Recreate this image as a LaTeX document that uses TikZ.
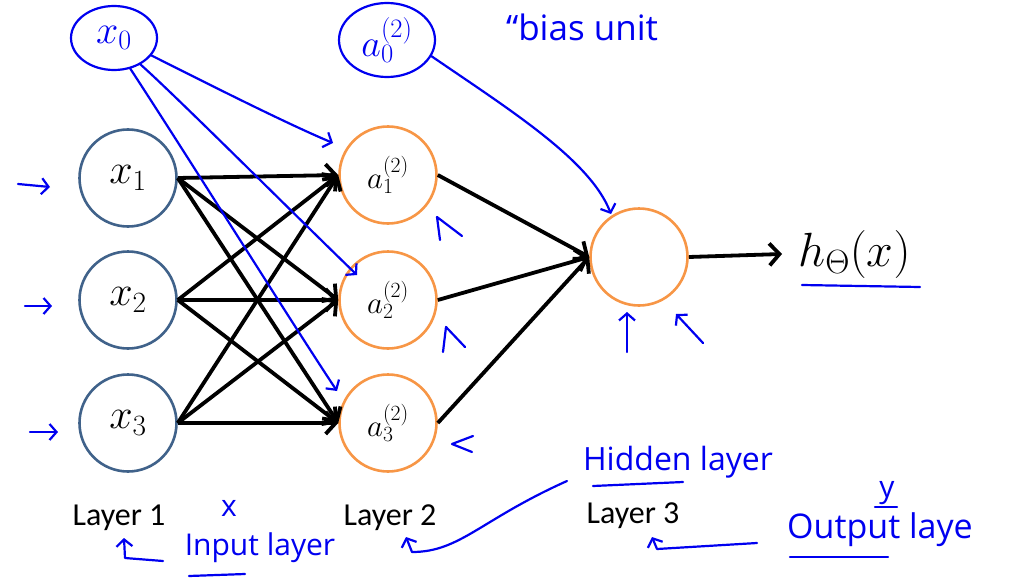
\documentclass[tikz,border=0pt]{standalone}
\usepackage{fix-cm}
\usepackage{fontspec}
\newfontfamily\calibri{Carlito}
\newfontfamily\handfont{Open Sans}
\usetikzlibrary{arrows.meta,shapes.geometric}
\definecolor{slate}{RGB}{64,98,138}
\definecolor{tang}{RGB}{247,150,70}
\definecolor{pen}{RGB}{0,0,240}

\begin{document}
\begin{tikzpicture}[x=1pt,y=-1pt,
  inp/.style={circle,draw=slate,line width=2.6pt,minimum size=97pt,inner sep=0pt,font=\fontsize{42}{48}\selectfont},
  hid/.style={inp,draw=tang,font=\fontsize{31}{36}\selectfont},
  e/.style={line width=3.8pt,-{Straight Barb[length=10pt,width=22pt]}},
  ann/.style={draw=pen,line width=2.2pt,line cap=round,line join=round,>={Straight Barb[length=7pt,width=16pt]}},
  hand/.style={text=pen,font=\handfont\fontsize{30}{36}\selectfont,inner sep=0pt},
  lay/.style={font=\calibri\fontsize{32}{38}\selectfont,anchor=base}]
  \useasboundingbox (0,0) rectangle (1027,578);
  % network
  \foreach \i/\y in {1/178,2/300,3/423} \node[inp] (x\i) at (128,\y) {$x_\i$};
  \foreach \i/\y in {1/175,2/300,3/423} \node[hid] (a\i) at (388,\y) {$a_\i^{(2)}$};
  \node[hid] (out) at (639,257) {};
  \node[font=\fontsize{48}{56}\selectfont,anchor=west,inner sep=0pt] (hx) at (798,254) {$h_\Theta(x)$};
  \foreach \i in {1,2,3} \foreach \j in {1,2,3} \draw[e] (x\i.east) -- (a\j.west);
  \foreach \j in {1,2,3} \draw[e] (a\j.east) -- (out.west);
  \draw[e] (out.east) -- ([xshift=-16pt]hx.west);
  \node[lay] (l1) at (119,525) {Layer 1};
  \node[lay] (l2) at (390,525) {Layer 2};
  \node[lay] (l3) at (633,523) {Layer 3};
  % pen notes: bias units
  \node[ellipse,ann,minimum width=86pt,minimum height=64pt,inner sep=0pt,text=pen,font=\fontsize{40}{46}\selectfont] (x0) at (114,38) {$x_0$};
  \node[ellipse,ann,minimum width=96pt,minimum height=74pt,inner sep=0pt,text=pen,font=\fontsize{38}{44}\selectfont] (a0) at (387,40) {$a_0^{(2)}$};
  \node[hand,font=\handfont\fontsize{35}{40}\selectfont] (bias) at (582,27) {“bias unit};
  \draw[ann,->] (x0.-25) .. controls (220,90) and (290,125) .. (333,143);
  \draw[ann,->] (x0.-45) .. controls (175,95) and (300,220) .. (357,275);
  \draw[ann,->] (x0.-62) .. controls (190,160) and (290,320) .. (337,391);
  \draw[ann,->] (a0.-20) .. controls (510,110) and (590,160) .. (611,214);
  % pen notes: small marks
  \draw[ann,->] (18,184) -- (50,187);
  \draw[ann,->] (25,306) -- (52,306);
  \draw[ann,->] (30,432) -- (58,432);
  \draw[ann] (440,240) -- (437,217) -- (462,236);
  \draw[ann] (443,352) -- (446,327) -- (465,347);
  \draw[ann] (473,436) -- (452,444) -- (472,452);
  \draw[ann,->] (627,352) -- (627,312);
  \draw[ann,->] (703,343) -- (676,314);
  \draw[ann] (802,285) -- (920,287);
  % pen notes: layer names
  \node[hand] (xm) at (229,508) {x};
  \node[hand] (inl) at (260,548) {Input layer};
  \node[hand,font=\handfont\fontsize{32}{38}\selectfont] (hil) at (678,462) {Hidden layer};
  \node[hand,font=\handfont\fontsize{34}{40}\selectfont] (oul) at (880,530) {Output laye};
  \node[hand] (ylab) at (887,493) {y};
  \draw[ann] (189,576) -- (245,574);
  \draw[ann] (593,486) -- (683,482);
  \draw[ann] (790,557) -- (888,557);
  \draw[ann] (875,507) -- (897,507);
  \draw[ann,->] (163,561) -- (125,558) -- (124,538);
  \draw[ann,->] (567,481) .. controls (480,520) and (460,552) .. (412,552) -- (406,537);
  \draw[ann,->] (757,543) -- (657,549) -- (652,537);
\end{tikzpicture}
\end{document}
